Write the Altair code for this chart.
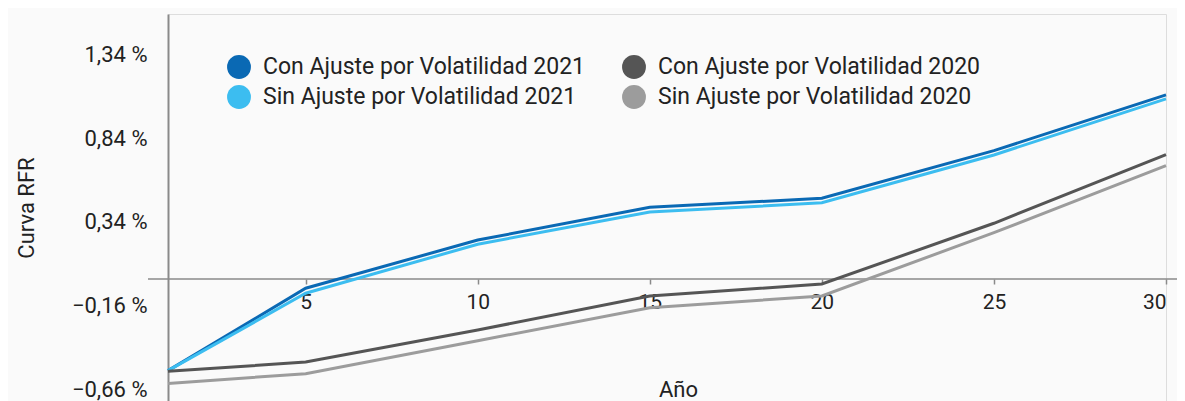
import altair as alt
import pandas as pd

years = [1, 5, 10, 15, 20, 25, 30]
con_2021 = [-0.546, -0.055, 0.232, 0.427, 0.481, 0.765, 1.097]
sin_2021 = [-0.546, -0.085, 0.207, 0.399, 0.454, 0.739, 1.073]
con_2020 = [-0.550, -0.495, -0.304, -0.101, -0.030, 0.332, 0.741]
sin_2020 = [-0.622, -0.564, -0.368, -0.171, -0.101, 0.276, 0.675]

series_names = [
    "Con Ajuste por Volatilidad 2021",
    "Sin Ajuste por Volatilidad 2021",
    "Con Ajuste por Volatilidad 2020",
    "Sin Ajuste por Volatilidad 2020",
]
series_values = [con_2021, sin_2021, con_2020, sin_2020]
series_colors = ["#0a69b4", "#3cbdf0", "#555555", "#9c9c9c"]
y_ticks = [-0.66, -0.16, 0.34, 0.84, 1.34]
x_ticks = [5, 10, 15, 20, 25, 30]

rows = []
for name, vals in zip(series_names, series_values):
    for yr, v in zip(years, vals):
        rows.append({"Año": yr, "valor": v, "serie": name})
df = pd.DataFrame(rows)

YMIN, YMAX = -0.727, 1.579
W, H = 998, 387
zero_from_bottom = (0 - YMIN) / (YMAX - YMIN) * H

FONT = "Roboto"
TXT = "#222222"
AX = "#8a8a8a"
BG = "#fafafa"

x_enc = alt.X(
    "Año:Q",
    scale=alt.Scale(domain=[1, 30], nice=False, zero=False),
    axis=alt.Axis(
        values=x_ticks, offset=-zero_from_bottom, domain=False, ticks=True,
        tickSize=5, tickColor=AX, tickWidth=1.5, grid=False,
        labelFontSize=21, labelPadding=8, labelColor=TXT, labelFont=FONT,
        title="Año", titleX=510, titleY=111, titleFontSize=22,
        titleFontWeight="normal", titleBaseline="middle", titleColor=TXT,
        titleFont=FONT,
    ),
)
y_enc = alt.Y(
    "valor:Q",
    scale=alt.Scale(domain=[YMIN, YMAX], nice=False, zero=False),
    axis=alt.Axis(
        values=y_ticks,
        labelExpr="replace(format(datum.value, '.2f'), '.', ',') + ' %'",
        domain=True, domainColor=AX, domainWidth=2, ticks=False, grid=False,
        labelPadding=21, labelFontSize=22, labelColor=TXT, labelFont=FONT,
        title="Curva RFR", titleX=-142, titleFontSize=22, titleFontWeight="normal",
        titleBaseline="middle", titleColor=TXT, titleFont=FONT,
    ),
)
color_scale = alt.Scale(domain=series_names, range=series_colors)

rule = alt.Chart(pd.DataFrame({"a": [0]})).mark_rule(color=AX, strokeWidth=1.5).encode(
    y=alt.datum(0), x=alt.value(-20), x2=alt.value(W + 11)
)

lines = alt.Chart(df).mark_line(strokeWidth=3).encode(
    x=x_enc, y=y_enc,
    color=alt.Color("serie:N", scale=color_scale, sort=series_names, legend=None),
)

legend_pts = alt.Chart(df).mark_point(filled=True, size=0, opacity=1).encode(
    x=x_enc, y=y_enc,
    fill=alt.Fill(
        "serie:N", scale=color_scale, sort=series_names,
        legend=alt.Legend(
            orient="none", legendX=59, legendY=41, columns=2, title=None,
            symbolType="circle", symbolSize=570, symbolStrokeWidth=0,
            symbolOpacity=1, labelFontSize=23, labelFont=FONT, labelColor=TXT,
            labelOffset=12, rowPadding=6, columnPadding=36, labelLimit=0, padding=0,
        ),
    ),
)

chart = alt.layer(rule, lines, legend_pts).resolve_scale(color="independent", fill="independent").properties(
    width=W, height=H, background=BG,
    padding={"left": 160, "top": 6, "right": 11, "bottom": 0},
    autosize=alt.AutoSizeParams(type="none"),
).configure_view(stroke="transparent", fill=BG).configure(font=FONT)

chart.save("out.html", embed_options={"renderer": "svg", "actions": False})
